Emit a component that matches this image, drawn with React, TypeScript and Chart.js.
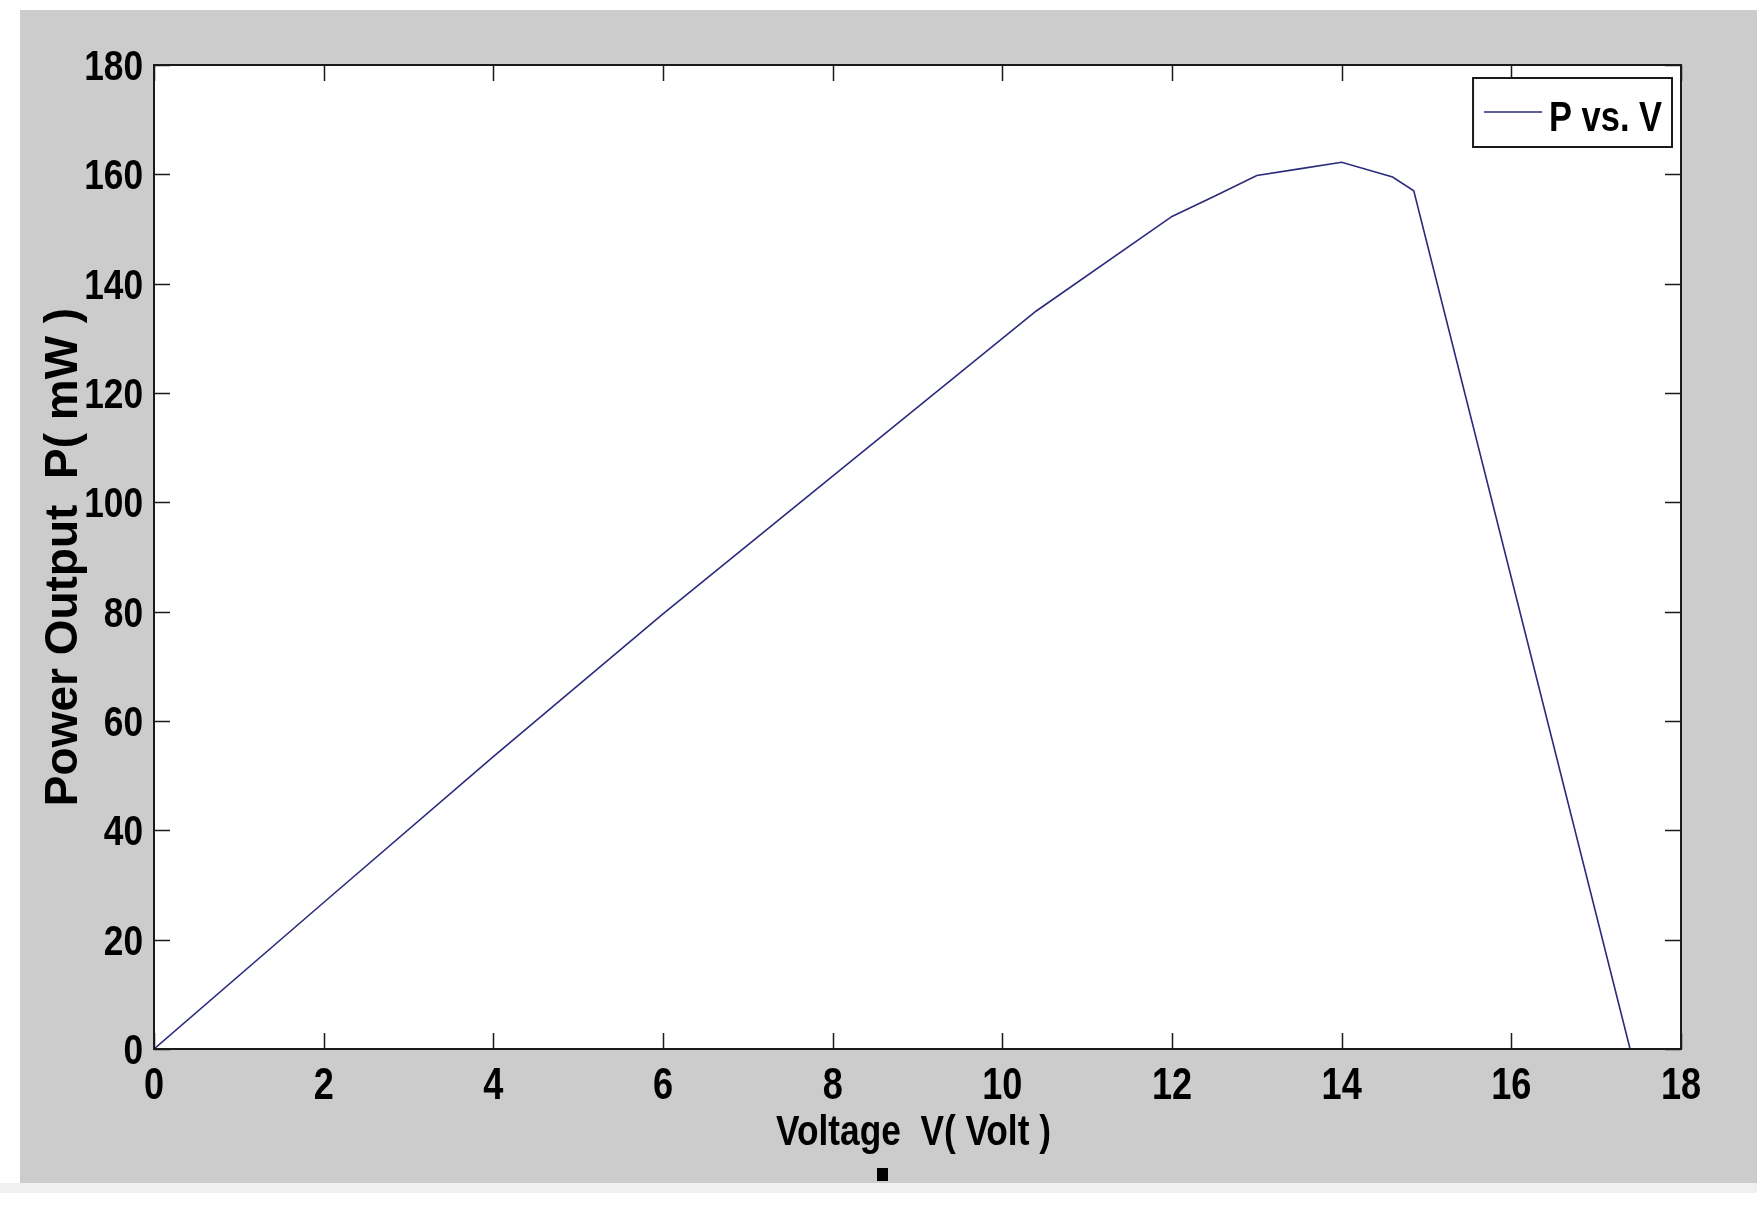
import { useEffect, useRef } from 'react';
import { Chart, registerables } from 'chart.js';

Chart.register(...registerables);

// measured points of the P-V curve (volt, mW)
const VOLTAGE = [0, 2, 4, 6, 8, 10.4, 12, 12.5, 13, 13.5, 14, 14.6, 14.85, 17.4];
const POWER = [0, 26.8, 53.5, 79.6, 104.8, 135, 152.3, 156, 159.8, 161, 162.2, 159.5, 157, 0];

const SERIES_LABEL = 'P vs. V';
const X_TITLE = 'Voltage  V( Volt )';
const Y_TITLE = 'Power Output  P( mW )';

// axis ranges: min, max, step
const X_TICKS = [0, 18, 2];
const Y_TICKS = [0, 180, 20];

const SANS = "'Liberation Sans', Arial, sans-serif";
const LINE_COLOR = '#2b2b7c';
const NARROW = 0.82; // Arial Narrow is roughly Arial squeezed to 82%

const W = 1757;
const H = 1221;

function narrowText(ctx: CanvasRenderingContext2D, text: string, x: number, y: number, size: number, align: CanvasTextAlign) {
    ctx.save();
    ctx.font = `bold ${size}px ${SANS}`;
    ctx.translate(x, y);
    ctx.scale(NARROW, 1);
    ctx.textAlign = align;
    ctx.textBaseline = 'alphabetic';
    ctx.fillStyle = '#000000';
    ctx.fillText(text, 0, 0);
    ctx.restore();
}

// MATLAB style box: white axes, inward ticks on all four sides, narrow labels, legend top right
const matlabBox = {
    id: 'matlabBox',
    beforeDraw(chart: Chart) {
        const { ctx, chartArea: a } = chart;
        ctx.save();
        ctx.fillStyle = '#ffffff';
        ctx.fillRect(a.left, a.top, a.right - a.left, a.bottom - a.top);
        ctx.restore();
    },
    afterDraw(chart: Chart) {
        const { ctx, chartArea: a } = chart;
        const xs = chart.scales.x;
        const ys = chart.scales.y;
        const tick = 16;
        ctx.save();
        ctx.strokeStyle = '#1a1a1a';
        ctx.lineWidth = 1.5;
        ctx.beginPath();
        xs.ticks.forEach((t) => {
            const px = Math.round(xs.getPixelForValue(t.value)) + 0.5;
            ctx.moveTo(px, a.bottom);
            ctx.lineTo(px, a.bottom - tick);
            ctx.moveTo(px, a.top);
            ctx.lineTo(px, a.top + tick);
        });
        ys.ticks.forEach((t) => {
            const py = Math.round(ys.getPixelForValue(t.value)) + 0.5;
            ctx.moveTo(a.left, py);
            ctx.lineTo(a.left + tick, py);
            ctx.moveTo(a.right, py);
            ctx.lineTo(a.right - tick, py);
        });
        ctx.stroke();

        ctx.lineWidth = 2;
        ctx.strokeRect(a.left, a.top, a.right - a.left, a.bottom - a.top);
        ctx.restore();

        // tick labels
        xs.ticks.forEach((t) => {
            narrowText(ctx, String(t.label), xs.getPixelForValue(t.value), a.bottom + 50, 44, 'center');
        });
        ys.ticks.forEach((t) => {
            narrowText(ctx, String(t.label), a.left - 11, ys.getPixelForValue(t.value) + 15, 43, 'right');
        });
        narrowText(ctx, String(xs.options.title.text), (a.left + a.right) / 2 - 4, a.bottom + 96, 43, 'center');

        // legend
        const ds = chart.data.datasets[0];
        const label = String(ds.label);
        ctx.save();
        ctx.font = `bold 42px ${SANS}`;
        const tw = ctx.measureText(label).width * NARROW;
        const boxW = 11 + 58 + 7 + tw + 10;
        const boxH = 69;
        const bx = a.right - 9 - boxW;
        const by = a.top + 13;
        ctx.fillStyle = '#ffffff';
        ctx.fillRect(bx, by, boxW, boxH);
        ctx.lineWidth = 2;
        ctx.strokeStyle = '#1a1a1a';
        ctx.strokeRect(bx, by, boxW, boxH);
        ctx.strokeStyle = String(ds.borderColor);
        ctx.lineWidth = 1.4;
        ctx.beginPath();
        ctx.moveTo(bx + 11, by + 34);
        ctx.lineTo(bx + 69, by + 34);
        ctx.stroke();
        ctx.restore();
        narrowText(ctx, label, bx + 76, by + 53, 42, 'left');
    },
};

export default function App() {
    const chartRef = useRef<HTMLCanvasElement>(null);

    useEffect(() => {
        if (!chartRef.current) return;
        const points = VOLTAGE.map((v, i) => ({ x: v, y: POWER[i] }));

        const chart = new Chart(chartRef.current, {
            type: 'line',
            data: {
                datasets: [
                    {
                        label: SERIES_LABEL,
                        data: points,
                        borderColor: LINE_COLOR,
                        borderWidth: 1.6,
                        pointRadius: 0,
                        tension: 0,
                        fill: false,
                    },
                ],
            },
            plugins: [matlabBox],
            options: {
                responsive: false,
                animation: false,
                layout: {
                    padding: { left: 0, top: 65, right: 76, bottom: 62 },
                },
                plugins: {
                    legend: { display: false },
                    tooltip: { enabled: false },
                },
                scales: {
                    x: {
                        type: 'linear',
                        min: X_TICKS[0],
                        max: X_TICKS[1],
                        grid: { display: false, drawTicks: false },
                        border: { display: false },
                        ticks: { stepSize: X_TICKS[2], display: false },
                        // drawn narrow by the plugin
                        title: { display: false, text: X_TITLE },
                        afterFit(scale) {
                            scale.height = 110;
                        },
                    },
                    y: {
                        min: Y_TICKS[0],
                        max: Y_TICKS[1],
                        grid: { display: false, drawTicks: false },
                        border: { display: false },
                        ticks: { stepSize: Y_TICKS[2], display: false },
                        title: {
                            display: true,
                            text: Y_TITLE,
                            color: '#000',
                            padding: { top: 37, bottom: 0 },
                            font: { family: SANS, size: 46, weight: 'bold' },
                        },
                        afterFit(scale) {
                            scale.width = 154;
                        },
                    },
                },
            },
        });

        return () => {
            chart.destroy();
        };
    }, []);

    return (
        <div style={{ position: 'absolute', left: 0, top: 0, width: W, height: H, background: '#ffffff', overflow: 'hidden' }}>
            <div style={{ position: 'absolute', left: 20, top: 10, width: W - 20, height: 1173, background: '#cccccc' }} />
            <div style={{ position: 'absolute', left: 0, top: 1183, width: W, height: 10, background: '#f0f0f0' }} />
            <canvas ref={chartRef} width={W} height={H} style={{ position: 'absolute', left: 0, top: 0, display: 'block' }}></canvas>
            <div style={{ position: 'absolute', left: 877, top: 1168, width: 11, height: 13, background: '#000' }} />
        </div>
    );
}
